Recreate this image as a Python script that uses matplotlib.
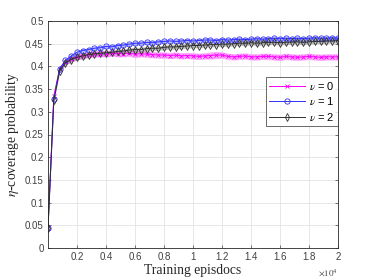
import matplotlib
matplotlib.use("Agg")
import matplotlib.pyplot as plt
import numpy as np

episodes = [0, 400, 800, 1200, 1600, 2000, 2400, 2800, 3200, 3600,
            4000, 4400, 4800, 5200, 5600, 6000, 6400, 6800, 7200, 7600,
            8000, 8400, 8800, 9200, 9600, 10000, 10400, 10800, 11200, 11600,
            12000, 12400, 12800, 13200, 13600, 14000, 14400, 14800, 15200, 15600,
            16000, 16400, 16800, 17200, 17600, 18000, 18400, 18800, 19200, 19600,
            20000]

nu0 = [0.045, 0.335, 0.395, 0.410, 0.417, 0.421, 0.424, 0.426, 0.427, 0.428,
       0.428, 0.429, 0.428, 0.428, 0.429, 0.427, 0.428, 0.427, 0.426, 0.425,
       0.425, 0.424, 0.425, 0.423, 0.424, 0.423, 0.422, 0.423, 0.424, 0.425,
       0.425, 0.422, 0.421, 0.422, 0.423, 0.421, 0.421, 0.422, 0.422, 0.421,
       0.420, 0.422, 0.421, 0.420, 0.421, 0.422, 0.421, 0.420, 0.421, 0.421,
       0.421]
nu1 = [0.045, 0.328, 0.395, 0.413, 0.423, 0.431, 0.435, 0.437, 0.440, 0.441,
       0.444, 0.443, 0.446, 0.447, 0.449, 0.451, 0.451, 0.453, 0.452, 0.454,
       0.455, 0.456, 0.455, 0.456, 0.457, 0.456, 0.457, 0.458, 0.458, 0.457,
       0.459, 0.458, 0.459, 0.460, 0.459, 0.460, 0.461, 0.460, 0.461, 0.462,
       0.461, 0.462, 0.461, 0.462, 0.461, 0.462, 0.463, 0.462, 0.462, 0.463,
       0.462]
nu2 = [0.045, 0.325, 0.390, 0.408, 0.415, 0.420, 0.423, 0.426, 0.428, 0.429,
       0.430, 0.431, 0.433, 0.434, 0.436, 0.437, 0.437, 0.439, 0.440, 0.440,
       0.442, 0.443, 0.443, 0.444, 0.445, 0.446, 0.446, 0.447, 0.448, 0.448,
       0.449, 0.449, 0.450, 0.451, 0.451, 0.452, 0.451, 0.452, 0.453, 0.453,
       0.452, 0.453, 0.454, 0.454, 0.453, 0.454, 0.455, 0.455, 0.456, 0.456,
       0.457]

sd0 = [0.002, 0.004, 0.005, 0.006, 0.007, 0.007, 0.007, 0.007, 0.007, 0.007,
       0.007, 0.007, 0.007, 0.007, 0.007, 0.008, 0.007, 0.007, 0.007, 0.007,
       0.007, 0.007, 0.007, 0.007, 0.007, 0.007, 0.007, 0.007, 0.008, 0.008,
       0.007, 0.007, 0.007, 0.007, 0.007, 0.007, 0.007, 0.007, 0.007, 0.007,
       0.007, 0.007, 0.007, 0.007, 0.007, 0.007, 0.007, 0.007, 0.007, 0.007,
       0.007]
sd1 = [0.002, 0.003, 0.003, 0.004, 0.004, 0.004, 0.004, 0.004, 0.004, 0.004,
       0.004, 0.004, 0.004, 0.004, 0.004, 0.004, 0.004, 0.004, 0.004, 0.004,
       0.004, 0.004, 0.004, 0.004, 0.004, 0.004, 0.004, 0.004, 0.004, 0.004,
       0.004, 0.004, 0.004, 0.004, 0.004, 0.004, 0.004, 0.004, 0.004, 0.004,
       0.004, 0.004, 0.004, 0.004, 0.004, 0.004, 0.004, 0.004, 0.004, 0.004,
       0.004]
sd2 = [0.002, 0.003, 0.004, 0.005, 0.005, 0.005, 0.005, 0.005, 0.005, 0.005,
       0.005, 0.005, 0.005, 0.005, 0.005, 0.005, 0.005, 0.005, 0.005, 0.005,
       0.005, 0.005, 0.005, 0.005, 0.005, 0.005, 0.005, 0.005, 0.005, 0.005,
       0.005, 0.005, 0.005, 0.005, 0.005, 0.005, 0.005, 0.005, 0.005, 0.005,
       0.005, 0.005, 0.005, 0.005, 0.005, 0.005, 0.005, 0.005, 0.005, 0.005,
       0.005]

labels = [r"$\nu$ = 0", r"$\nu$ = 1", r"$\nu$ = 2"]
xticks = [2000, 4000, 6000, 8000, 10000, 12000, 14000, 16000, 18000, 20000]
xticklabels = ["0.2", "0.4", "0.6", "0.8", "1", "1.2", "1.4", "1.6", "1.8", "2"]
yticks = [0, 0.05, 0.1, 0.15, 0.2, 0.25, 0.3, 0.35, 0.4, 0.45, 0.5]
yticklabels = ["0", "0.05", "0.1", "0.15", "0.2", "0.25", "0.3", "0.35", "0.4", "0.45", "0.5"]

plt.rcParams['font.family'] = ['Liberation Sans', 'DejaVu Sans']
plt.rcParams['mathtext.fontset'] = 'stix'

fig = plt.figure(figsize=(3.74, 2.8), dpi=100)
ax = fig.add_axes([48/374, 32/280, 290/374, 227/280])

x = np.array(episodes)
styles = [
    (nu0, sd0, '#ff00ff', '#ff55ff', 'x', 3.2, 0.5),
    (nu1, sd1, '#3030ff', '#6a6aff', 'o', 3.8, 0.45),
    (nu2, sd2, '#303030', '#707070', 'd', 3.8, 0.45),
]
for (y, sd, lc, fc, mk, ms, al), lab in zip(styles, labels):
    y = np.array(y); sd = np.array(sd)
    ax.fill_between(x, y - sd, y + sd, color=fc, alpha=al, linewidth=0)
    ax.plot(x, y, color=lc, lw=0.7, marker=mk, ms=ms, mfc='none', mew=0.6, label=lab)

ax.set_xlim(0, 20000)
ax.set_ylim(0, 0.5)
ax.set_xticks(xticks)
ax.set_xticklabels(xticklabels)
ax.set_yticks(yticks)
ax.set_yticklabels(yticklabels)
ax.grid(True, color='#e3e3e3', lw=0.6)
ax.set_axisbelow(True)
ax.tick_params(direction='in', length=2.5, width=0.5, labelsize=7, colors='#404040',
               top=True, right=True, pad=3)
for s in ax.spines.values():
    s.set_color('#262626'); s.set_linewidth(0.6)

ax.set_xlabel("Training episdocs", family='Liberation Serif', fontsize=9.8, color='#262626', labelpad=1)
ax.set_ylabel(r"$\eta$-coverage probability", family='Liberation Serif', fontsize=9.8, color='#262626', labelpad=3)
ax.text(1.0, -0.085, r"$\times10^4$", transform=ax.transAxes, ha='right', va='top', fontsize=6.5, color='#404040')

leg = ax.legend(loc='upper right', bbox_to_anchor=(1.0, 0.755), fontsize=8, frameon=True, fancybox=False,
                edgecolor='#262626', handlelength=3.2, borderpad=0.3, labelspacing=0.3, handletextpad=0.4,
                borderaxespad=0.0)
leg.get_frame().set_linewidth(0.6)

fig.savefig("out.png", dpi=100)
